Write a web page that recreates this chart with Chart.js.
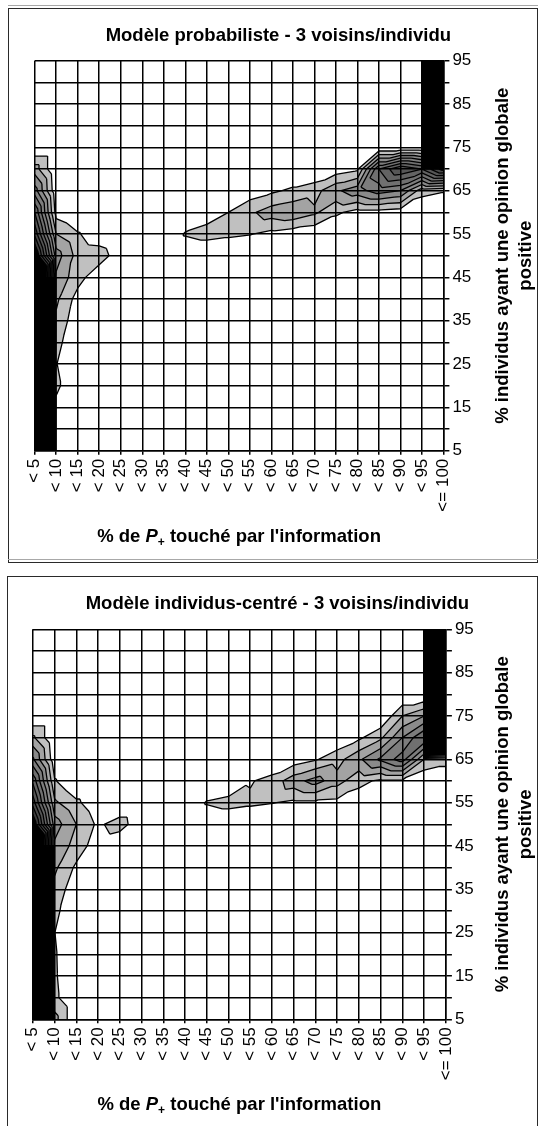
<!DOCTYPE html>
<html>
<head>
<meta charset="utf-8">
<script src="https://cdn.jsdelivr.net/npm/chart.js@4.4.0/dist/chart.umd.min.js"></script>
<style>
  html, body { margin: 0; padding: 0; background: #fff; }
  body { width: 542px; height: 1126px; position: relative; overflow: hidden; }
  .frame { position: absolute; border: 1.5px solid #2a2a2a; box-sizing: border-box; }
  .shade { position: absolute; height: 1px; background: #a8a8a8; }
  canvas { position: absolute; left: 0; }
</style>
</head>
<body>
<div class="shade" style="left:8px;top:5px;width:530px"></div>
<div class="frame" style="left:8px;top:7.5px;width:530px;height:555px"></div>
<div class="shade" style="left:8px;top:559px;width:530px"></div>
<div class="frame" style="left:7px;top:575.5px;width:531px;height:560px"></div>
<canvas id="chartProba" width="542" height="568" style="top:0"></canvas>
<canvas id="chartIndiv" width="542" height="558" style="top:568px"></canvas>
<script>
// ---------- DATA ----------
const xLabels = ["< 5", "< 10", "< 15", "< 20", "< 25", "< 30", "< 35", "< 40", "< 45", "< 50",
  "< 55", "< 60", "< 65", "< 70", "< 75", "< 80", "< 85", "< 90", "< 95", "<= 100"];
const yValues = [95, 90, 85, 80, 75, 70, 65, 60, 55, 50, 45, 40, 35, 30, 25, 20, 15, 10, 5];

// contour levels and the grey of each band (z >= level)
const levels = [10, 20, 30, 40, 50, 60, 70, 80, 90, 100];
const bandColors = ["#c0c0c0", "#a3a3a3", "#8a8a8a", "#7d7d7d", "#707070",
  "#636363", "#565656", "#494949", "#3c3c3c", "#000000"];

// frequencies, one row per y value (95 at top), one column per x category
const probaRows = [
  [0, 0, 0, 0, 0, 0, 0, 0, 0, 0, 0, 0, 0, 0, 0, 0, 0, 0, 0, 3000],     // 95
  [0, 0, 0, 0, 0, 0, 0, 0, 0, 0, 0, 0, 0, 0, 0, 0, 0, 0, 0, 3000],     // 90
  [0, 0, 0, 0, 0, 0, 0, 0, 0, 0, 0, 0, 0, 0, 0, 0, 0, 0, 0, 3000],     // 85
  [0, 0, 0, 0, 0, 0, 0, 0, 0, 0, 0, 0, 0, 0, 0, 0, 0, 0, 0, 3000],     // 80
  [0, 0, 0, 0, 0, 0, 0, 0, 0, 0, 0, 0, 0, 0, 0, 0, 0, 0, 0, 3000],     // 75
  [25, 0, 0, 0, 0, 0, 0, 0, 0, 0, 0, 0, 0, 0, 4, 8, 60, 80, 70, 95],    // 70
  [45, 2, 0, 0, 0, 0, 0, 0, 0, 0, 4, 8, 12, 16, 28, 36, 45, 40, 14, 11],  // 65
  [70, 6, 0, 0, 0, 0, 0, 0, 5, 10, 18, 25, 28, 22, 12, 6, 6, 4, 0, 0],    // 60
  [88, 20, 11, 4, 0, 0, 0, 11, 14, 12, 10.5, 7, 4, 2, 0, 0, 0, 0, 0, 0],  // 55
  [115, 35, 16, 15, 4, 0, 0, 0, 0, 0, 0, 0, 0, 0, 0, 0, 0, 0, 0, 0],      // 50
  [180, 28, 14, 3, 0, 0, 0, 0, 0, 0, 0, 0, 0, 0, 0, 0, 0, 0, 0, 0],       // 45
  [3000, 22, 6, 0, 0, 0, 0, 0, 0, 0, 0, 0, 0, 0, 0, 0, 0, 0, 0, 0],       // 40
  [3000, 18, 3, 0, 0, 0, 0, 0, 0, 0, 0, 0, 0, 0, 0, 0, 0, 0, 0, 0],       // 35
  [3000, 14, 0, 0, 0, 0, 0, 0, 0, 0, 0, 0, 0, 0, 0, 0, 0, 0, 0, 0],       // 30
  [3000, 10.5, 0, 0, 0, 0, 0, 0, 0, 0, 0, 0, 0, 0, 0, 0, 0, 0, 0, 0],     // 25
  [3000, 12.5, 0, 0, 0, 0, 0, 0, 0, 0, 0, 0, 0, 0, 0, 0, 0, 0, 0, 0],     // 20
  [3000, 7, 0, 0, 0, 0, 0, 0, 0, 0, 0, 0, 0, 0, 0, 0, 0, 0, 0, 0],        // 15
  [3000, 6, 0, 0, 0, 0, 0, 0, 0, 0, 0, 0, 0, 0, 0, 0, 0, 0, 0, 0],        // 10
  [3000, 5, 0, 0, 0, 0, 0, 0, 0, 0, 0, 0, 0, 0, 0, 0, 0, 0, 0, 0]         // 5
];

const indivRows = [
  [0, 0, 0, 0, 0, 0, 0, 0, 0, 0, 0, 0, 0, 0, 0, 0, 0, 0, 0, 3000],     // 95
  [0, 0, 0, 0, 0, 0, 0, 0, 0, 0, 0, 0, 0, 0, 0, 0, 0, 0, 0, 3000],     // 90
  [0, 0, 0, 0, 0, 0, 0, 0, 0, 0, 0, 0, 0, 0, 0, 0, 0, 0, 0, 3000],     // 85
  [0, 0, 0, 0, 0, 0, 0, 0, 0, 0, 0, 0, 0, 0, 0, 0, 0, 0, 0, 3000],     // 80
  [0, 0, 0, 0, 0, 0, 0, 0, 0, 0, 0, 0, 0, 0, 0, 0, 0, 20, 30, 3000],   // 75
  [22, 0, 0, 0, 0, 0, 0, 0, 0, 0, 0, 0, 0, 0, 2, 8, 18, 40, 60, 400],  // 70
  [42, 3, 0, 0, 0, 0, 0, 0, 0, 0, 0, 0, 4, 9, 16, 28, 42, 55, 20, 15],  // 65
  [68, 11, 0, 0, 0, 0, 0, 0, 0, 0, 9, 14, 26, 34, 24, 13, 8, 8, 0, 0],  // 60
  [86, 22, 12, 3, 0, 0, 0, 0, 11, 14, 12, 10.5, 8, 8, 7, 4, 0, 0, 0, 0], // 55
  [112, 35, 20, 8, 15, 2, 0, 0, 0, 0, 0, 0, 0, 0, 0, 0, 0, 0, 0, 0],    // 50
  [175, 28, 16, 4, 0, 0, 0, 0, 0, 0, 0, 0, 0, 0, 0, 0, 0, 0, 0, 0],     // 45
  [3000, 22, 8, 0, 0, 0, 0, 0, 0, 0, 0, 0, 0, 0, 0, 0, 0, 0, 0, 0],     // 40
  [3000, 17, 3, 0, 0, 0, 0, 0, 0, 0, 0, 0, 0, 0, 0, 0, 0, 0, 0, 0],     // 35
  [3000, 13, 1, 0, 0, 0, 0, 0, 0, 0, 0, 0, 0, 0, 0, 0, 0, 0, 0, 0],     // 30
  [3000, 10.2, 0, 0, 0, 0, 0, 0, 0, 0, 0, 0, 0, 0, 0, 0, 0, 0, 0, 0],   // 25
  [3000, 11.2, 0, 0, 0, 0, 0, 0, 0, 0, 0, 0, 0, 0, 0, 0, 0, 0, 0, 0],   // 20
  [3000, 11.5, 0, 0, 0, 0, 0, 0, 0, 0, 0, 0, 0, 0, 0, 0, 0, 0, 0, 0],   // 15
  [3000, 12.5, 0, 0, 0, 0, 0, 0, 0, 0, 0, 0, 0, 0, 0, 0, 0, 0, 0, 0],   // 10
  [3000, 24, 0, 0, 0, 0, 0, 0, 0, 0, 0, 0, 0, 0, 0, 0, 0, 0, 0, 0]      // 5
];

const FONT = "'Liberation Sans', Arial, sans-serif";

// ---------- CONTOUR HELPERS ----------
// keep the part of a triangle where z >= L
function clipAbove(poly, L) {
  const out = [];
  for (let i = 0; i < poly.length; i++) {
    const a = poly[i], b = poly[(i + 1) % poly.length];
    const ia = a[2] >= L, ib = b[2] >= L;
    if (ia) out.push(a);
    if (ia !== ib) {
      const t = (L - a[2]) / (b[2] - a[2]);
      out.push([a[0] + t * (b[0] - a[0]), a[1] + t * (b[1] - a[1]), L]);
    }
  }
  return out;
}

function crossing(tri, L) {
  const pts = [];
  for (let i = 0; i < 3; i++) {
    const a = tri[i], b = tri[(i + 1) % 3];
    if ((a[2] >= L) !== (b[2] >= L)) {
      const t = (L - a[2]) / (b[2] - a[2]);
      pts.push([a[0] + t * (b[0] - a[0]), a[1] + t * (b[1] - a[1])]);
    }
  }
  return pts;
}

function contourPlugin(rows) {
  return {
    id: "contour",
    beforeDraw(chart) {
      const { ctx, chartArea: a } = chart;
      const xs = chart.scales.x, ys = chart.scales.y;
      const px = p => [xs.getPixelForValue(p[0]), ys.getPixelForValue(p[1])];

      // split every cell along its "/" diagonal
      const tris = [];
      for (let r = 0; r < yValues.length - 1; r++) {
        for (let c = 0; c < xLabels.length - 1; c++) {
          const tl = [c, yValues[r], rows[r][c]];
          const tr = [c + 1, yValues[r], rows[r][c + 1]];
          const bl = [c, yValues[r + 1], rows[r + 1][c]];
          const br = [c + 1, yValues[r + 1], rows[r + 1][c + 1]];
          tris.push([bl, br, tr], [bl, tr, tl]);
        }
      }

      ctx.save();
      ctx.beginPath();
      ctx.rect(a.left, a.top, a.right - a.left, a.bottom - a.top);
      ctx.clip();

      levels.forEach((L, k) => {
        ctx.beginPath();
        tris.forEach(t => {
          const poly = clipAbove(t, L);
          if (poly.length < 3) return;
          poly.forEach((p, i) => {
            const [x, y] = px(p);
            if (i === 0) ctx.moveTo(x, y); else ctx.lineTo(x, y);
          });
          ctx.closePath();
        });
        ctx.fillStyle = bandColors[k];
        ctx.fill();
      });

      ctx.beginPath();
      levels.forEach(L => {
        tris.forEach(t => {
          const seg = crossing(t, L);
          if (seg.length !== 2) return;
          const p0 = px(seg[0]), p1 = px(seg[1]);
          ctx.moveTo(p0[0], p0[1]);
          ctx.lineTo(p1[0], p1[1]);
        });
      });
      ctx.strokeStyle = "#000";
      ctx.lineWidth = 1.3;
      ctx.lineJoin = "round";
      ctx.stroke();
      ctx.restore();
    }
  };
}

// axis titles: rotated y title in two lines, x title with italic P and subscript +
const axisTitles = {
  id: "axisTitles",
  afterDraw(chart) {
    const { ctx, chartArea: a } = chart;
    ctx.save();
    ctx.fillStyle = "#000";
    ctx.font = "bold 18.5px " + FONT;
    ctx.textAlign = "center";
    ctx.textBaseline = "alphabetic";
    const cy = (a.top + a.bottom) / 2;
    [["% individus ayant une opinion globale", 508], ["positive", 531]].forEach(([txt, x]) => {
      ctx.save();
      ctx.translate(x, cy);
      ctx.rotate(-Math.PI / 2);
      ctx.fillText(txt, 0, 0);
      ctx.restore();
    });

    const parts = [
      { t: "% de ", f: "bold 18.5px " + FONT, dy: 0 },
      { t: "P", f: "italic bold 18.5px " + FONT, dy: 0 },
      { t: "+", f: "bold 12px " + FONT, dy: 4 },
      { t: " touché par l'information", f: "bold 18.5px " + FONT, dy: 0 }
    ];
    ctx.textAlign = "left";
    let total = 0;
    parts.forEach(p => { ctx.font = p.f; p.w = ctx.measureText(p.t).width; total += p.w; });
    let x = (a.left + a.right) / 2 - total / 2;
    const y = a.bottom + 91;
    parts.forEach(p => {
      ctx.font = p.f;
      ctx.fillText(p.t, x, y + p.dy);
      x += p.w;
    });
    ctx.restore();
  }
};

// ---------- CHARTS ----------
function makeChart(id, title, rows, area) {
  const canvas = document.getElementById(id);
  const W = canvas.width, H = canvas.height;
  const padRight = 20;
  return new Chart(canvas.getContext("2d"), {
    type: "line",
    data: { labels: xLabels, datasets: [] },
    options: {
      responsive: false,
      animation: false,
      events: [],
      layout: { padding: { left: area.left, right: padRight, top: 0, bottom: 0 } },
      plugins: {
        legend: { display: false },
        tooltip: { enabled: false },
        title: {
          display: true,
          text: title,
          color: "#000",
          font: { family: FONT, size: 18.5, weight: "bold", lineHeight: 1.2 },
          padding: { top: 25, bottom: area.top - 25 - 22.2 }
        }
      },
      scales: {
        x: {
          type: "category",
          offset: false,
          grid: { color: "#000", lineWidth: 1.5, tickLength: 4, tickColor: "#000", offset: false },
          border: { color: "#000", width: 1.5 },
          ticks: {
            autoSkip: false, maxRotation: 90, minRotation: 90, padding: 4,
            color: "#000", font: { family: FONT, size: 17 }
          },
          afterFit: s => { s.height = H - area.bottom; }
        },
        y: {
          type: "linear",
          position: "right",
          min: 5,
          max: 95,
          grid: { color: "#000", lineWidth: 1.5, tickLength: 6, tickColor: "#000" },
          border: { color: "#000", width: 1.5 },
          ticks: {
            stepSize: 5, autoSkip: false, padding: 3,
            color: "#000", font: { family: FONT, size: 17 },
            callback: v => ((v - 5) % 10 === 0 ? v : "")
          },
          afterFit: s => { s.width = W - padRight - area.right; }
        }
      }
    },
    plugins: [contourPlugin(rows), axisTitles]
  });
}

makeChart("chartProba", "Modèle probabiliste - 3 voisins/individu", probaRows,
  { left: 34.7, right: 443.4, top: 60.7, bottom: 450.7 });
makeChart("chartIndiv", "Modèle individus-centré - 3 voisins/individu", indivRows,
  { left: 32.8, right: 445.9, top: 61.3, bottom: 451.3 });
</script>
</body>
</html>
